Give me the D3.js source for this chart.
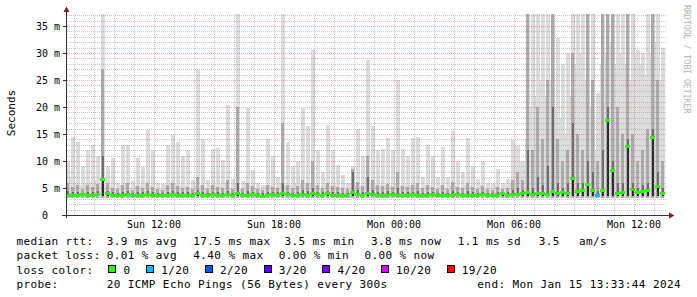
<!DOCTYPE html>
<html>
<head>
<meta charset="utf-8">
<script src="https://cdn.jsdelivr.net/npm/d3@7.9.0/dist/d3.min.js"></script>
<style>
  body { margin: 0; background: #fff; }
  text { font-family: "DejaVu Sans Mono", monospace; fill: #000; white-space: pre; }
</style>
</head>
<body>
<svg id="chart" width="697" height="297"></svg>
<script>
// 15 minute bins (ms)
const maxRtt = [
  10, 14.5, 13.6, 9, 12, 13, 11, 37.4, 9, 10.5,
  6, 13, 13, 6.3, 10.5, 8.8, 15.8, 12, 6, 5.7,
  13, 14.8, 13.6, 11, 12, 6.5, 26.8, 14, 6.5, 12.3,
  12.4, 10.2, 20.4, 6.6, 37.4, 6.3, 19.8, 8.3, 6, 5.5,
  14, 11, 7, 37.4, 13.5, 9, 10, 19.9, 16.4, 30.5,
  12, 8, 16.6, 12, 9.3, 7.5, 6, 9, 16, 11,
  28.7, 16.4, 12, 12.3, 14.2, 12, 25, 12.3, 11, 14.2,
  14.5, 7, 13, 11, 7, 12.6, 7, 15.5, 10, 8,
  14.2, 9, 6.6, 10, 6, 5.7, 8.5, 6, 6.6, 13.8,
  13, 10, 37.4, 37.4, 37.4, 37.4, 37.4, 37.4, 32.8, 28,
  30, 37.4, 37.4, 37.4, 37.4, 37.4, 22.6, 37.4, 37.4, 37.4,
  37.4, 37.4, 37.4, 37.4, 30.5, 30, 37.4, 37.4, 37.4, 31
];
// level most pings of the bin stay under
const baseRtt = [
  5.5, 7, 6, 5.5, 6, 6, 6.5, 6, 5.5, 5.5,
  5, 5.5, 6, 5, 5.5, 5.5, 6, 5.5, 5, 5,
  5.5, 6, 6, 5.5, 5.5, 5, 5.5, 5.5, 5, 5.5,
  5.5, 5.5, 6, 5, 6, 5, 6, 5.5, 5, 5,
  5.5, 5.5, 5, 6, 5.5, 5.5, 6, 6, 6, 6,
  5.5, 5, 5.5, 5.5, 5.5, 5, 5, 6, 5.5, 5.5,
  7, 6, 5.5, 5.5, 5.5, 5.5, 6, 5.5, 5.5, 5.5,
  5.5, 5, 5.5, 5.5, 5, 5.5, 5, 5.5, 5.5, 5,
  5.5, 5.5, 5, 5.5, 5, 5, 5.5, 5, 5.5, 6,
  13, 10, 14, 20, 22, 25, 22, 25, 20, 18,
  15, 22, 28, 30, 25, 20, 12, 28, 30, 32,
  28, 30, 28, 25, 30, 28, 26, 30, 32, 25
];
const hiRtt = [
  6, 5.2, 5.5, 4.8, 5.6, 5.2, 5.8, 27, 6, 5,
  4.8, 5.5, 6, 4.7, 5.4, 5, 6, 5.2, 4.8, 4.6,
  5.5, 6, 5.4, 5, 5.2, 4.8, 7, 5.5, 4.8, 5.6,
  5.2, 5, 6.5, 4.8, 20, 4.8, 6, 5.4, 4.8, 4.6,
  5.5, 5.2, 5, 17, 5.6, 5, 5.4, 6.5, 6, 10,
  5.6, 5, 6, 5.4, 5.2, 5, 4.8, 8.5, 6.2, 5.4,
  11, 6.5, 5.6, 5.4, 5.8, 5.2, 8, 5.4, 5.2, 5.6,
  6, 5, 5.5, 5.2, 4.8, 5.6, 4.8, 6.2, 5.2, 5,
  6, 5.2, 4.8, 5.4, 4.8, 4.6, 5.2, 4.8, 5, 6.5,
  8, 6.5, 37.4, 12, 20, 14, 25, 37.4, 14, 10,
  12, 30, 15, 12, 37.4, 25, 10, 37.4, 37.4, 37.4,
  20, 15, 37.4, 15, 10, 12, 16, 37.4, 25, 10
];
const midRtt = [
  4.4, 4.2, 4.3, 4.1, 4.3, 4.2, 4.4, 11, 4.5, 4.2,
  4.1, 4.3, 4.4, 4.1, 4.2, 4.2, 4.5, 4.2, 4.1, 4.0,
  4.3, 4.4, 4.2, 4.2, 4.3, 4.1, 4.6, 4.3, 4.1, 4.3,
  4.2, 4.1, 4.5, 4.1, 6, 4.1, 4.4, 4.3, 4.1, 4.0,
  4.3, 4.2, 4.2, 6, 4.3, 4.1, 4.2, 4.6, 4.4, 5,
  4.3, 4.2, 4.4, 4.2, 4.2, 4.1, 4.1, 8, 4.6, 4.3,
  7, 4.6, 4.3, 4.2, 4.4, 4.2, 5, 4.2, 4.2, 4.3,
  4.4, 4.1, 4.3, 4.2, 4.1, 4.3, 4.1, 4.5, 4.2, 4.1,
  4.4, 4.2, 4.1, 4.3, 4.1, 4.0, 4.2, 4.1, 4.2, 4.6,
  5, 4.6, 12, 5, 7, 5.5, 9, 20, 6, 5,
  6, 17, 6, 6, 10, 8, 4.5, 12, 20, 10,
  6, 6, 14, 6, 5, 5.5, 6, 16, 8, 5
];
const medRtt = [
  3.7, 3.6, 3.7, 3.8, 3.7, 3.6, 3.8, 6.5, 3.9, 3.7,
  3.6, 3.7, 3.8, 3.6, 3.7, 3.7, 3.8, 3.6, 3.7, 3.6,
  3.7, 3.8, 3.7, 3.6, 3.7, 3.7, 3.9, 3.7, 3.6, 3.8,
  3.7, 3.6, 3.8, 3.7, 4.0, 3.6, 3.7, 3.8, 3.6, 3.5,
  3.7, 3.8, 3.7, 3.9, 3.8, 3.7, 3.6, 3.8, 3.7, 3.9,
  3.8, 3.7, 3.9, 3.7, 3.6, 3.7, 3.6, 4.2, 3.8, 3.7,
  3.9, 3.8, 3.7, 3.6, 3.7, 3.8, 3.7, 3.6, 3.7, 3.8,
  3.7, 3.6, 3.7, 3.8, 3.6, 3.7, 3.6, 3.7, 3.8, 3.6,
  3.7, 3.6, 3.7, 3.8, 3.6, 3.7, 3.7, 3.9, 3.6, 3.8,
  3.8, 3.9, 4.2, 3.8, 4.0, 3.9, 3.8, 4.4, 4.0, 4.2,
  3.9, 6.8, 4.4, 4.6, 5.6, 4.6, 3.6, 4.5, 17.5, 8.3,
  4.0, 4.2, 12.6, 4.8, 4.1, 4.3, 4.5, 14.3, 5.3, 4.0
];
// index into lossLabels / lossColors
const lossLevel = [
  0, 0, 0, 0, 0, 0, 0, 0, 0, 0,
  0, 0, 0, 0, 0, 0, 0, 0, 0, 0,
  0, 0, 0, 0, 0, 0, 0, 0, 0, 0,
  0, 0, 0, 0, 0, 0, 0, 0, 0, 0,
  0, 0, 0, 0, 0, 0, 0, 0, 0, 0,
  0, 0, 0, 0, 0, 0, 0, 0, 0, 0,
  0, 0, 0, 0, 0, 0, 0, 0, 0, 0,
  0, 0, 0, 0, 0, 0, 0, 0, 0, 0,
  0, 0, 0, 0, 0, 0, 0, 0, 0, 0,
  0, 0, 0, 0, 0, 0, 0, 0, 0, 0,
  0, 0, 0, 0, 0, 0, 1, 0, 0, 0,
  0, 0, 0, 0, 0, 0, 0, 0, 0, 0
];
const minRtt = 3.2;   // fastest pings
const lowMidRtt = 3.45; // lower edge of the dark core

const lossLabels = ['0', '1/20', '2/20', '3/20', '4/20', '10/20', '19/20'];
const lossColors = ['#26ff00', '#00b8ff', '#0059ff', '#5e00ff', '#7e00ff', '#dd00ff', '#ff0000'];

const rttLegend = ['median rtt:', '3.9 ms avg', '17.5 ms max', '3.5 ms min', '3.8 ms now', '1.1 ms sd', '3.5', 'am/s'];
const lossLegend = ['packet loss:', '0.01 % avg', '4.40 % max', '0.00 % min', '0.00 % now'];
const probeLegend = ['probe:', '20 ICMP Echo Pings (56 Bytes) every 300s'];
const endLabel = 'end: Mon Jan 15 13:33:44 2024';

const endTime = new Date(2024, 0, 15, 13, 33, 44);
const step = 15 * 60 * 1000;
const startTime = new Date(+endTime - maxRtt.length * step);

// layout
const rttX = [16.4, 106.7, 193.3, 284.4, 371, 457.8, 538.7, 579];
const lossX = [16.4, 106.7, 193.3, 278.7, 364.4];
const probeX = [16.4, 106.7];

let svg = d3.select('#chart');
let x = d3.scaleTime().domain([startTime, endTime]).range([65.24, 665.24]);
let y = d3.scaleLinear().domain([0, 35]).range([215, 26]);

let bins = maxRtt.map((m, i) => ({
  t0: new Date(+startTime + i * step),
  t1: new Date(+startTime + (i + 1) * step),
  max: m, base: baseRtt[i], hi: hiRtt[i], mid: midRtt[i], med: medRtt[i], loss: lossLevel[i]
}));

svg.append('defs').append('clipPath').attr('id', 'plot')
  .append('rect').attr('x', 67).attr('y', 14).attr('width', 599).attr('height', 201);

let plot = svg.append('g').attr('clip-path', 'url(#plot)');

// smoke: full width bands and narrower spikes, lightest first (width in px, 0 = whole bin)
const bands = [
  ['base', '#dcdcdc', 0, minRtt],
  ['max', '#dcdcdc', 4, minRtt],
  ['hi', '#ababab', 3, minRtt],
  ['mid', '#6c6c6c', 2, lowMidRtt],
  ['med', '#2a2a2a', 2, lowMidRtt]
];
bands.forEach(([key, color, w, low]) => {
  plot.append('g').selectAll('rect').data(bins).join('rect')
    .attr('x', d => w ? Math.round((x(d.t0) + x(d.t1) - w) / 2) : x(d.t0))
    .attr('width', d => w ? w : x(d.t1) - x(d.t0))
    .attr('y', d => y(d[key]))
    .attr('height', d => Math.max(0, y(low) - y(d[key])))
    .attr('fill', color)
    .attr('shape-rendering', 'crispEdges');
});

// grid
let grid = svg.append('g').attr('shape-rendering', 'crispEdges').attr('stroke-dasharray', '1,1');
let minorH = d3.range(0, 38, 1).filter(v => v % 5 !== 0);
let majorH = d3.range(5, 36, 5);
let hours = x.ticks(d3.timeHour.every(1));
const minorColor = 'rgba(130,130,130,0.45)';
const majorColor = 'rgba(225,60,60,0.4)';
grid.selectAll('.hmin').data(minorH).join('line')
  .attr('x1', 67).attr('x2', 666).attr('y1', d => Math.round(y(d)) + 0.5).attr('y2', d => Math.round(y(d)) + 0.5)
  .attr('stroke', minorColor);
grid.selectAll('.vmin').data(hours.filter(h => h.getHours() % 3 !== 0)).join('line')
  .attr('x1', d => Math.round(x(d)) + 0.5).attr('x2', d => Math.round(x(d)) + 0.5)
  .attr('y1', 14).attr('y2', 215)
  .attr('stroke', minorColor);
grid.selectAll('.hmaj').data(majorH).join('line')
  .attr('x1', 67).attr('x2', 666).attr('y1', d => Math.round(y(d)) + 0.5).attr('y2', d => Math.round(y(d)) + 0.5)
  .attr('stroke', majorColor);
grid.selectAll('.vmaj').data(hours.filter(h => h.getHours() % 3 === 0)).join('line')
  .attr('x1', d => Math.round(x(d)) + 0.5).attr('x2', d => Math.round(x(d)) + 0.5)
  .attr('y1', 14).attr('y2', 215)
  .attr('stroke', majorColor);

// median, coloured by loss
plot.append('g').selectAll('line').data(bins).join('line')
  .attr('x1', d => x(d.t0)).attr('x2', d => x(d.t1))
  .attr('y1', d => y(d.med)).attr('y2', d => y(d.med))
  .attr('stroke', d => lossColors[d.loss])
  .attr('stroke-width', 3)
  .attr('shape-rendering', 'crispEdges');

// axes
let axes = svg.append('g').attr('shape-rendering', 'crispEdges');
axes.append('line').attr('x1', 66.5).attr('x2', 66.5).attr('y1', 11).attr('y2', 218).attr('stroke', '#333');
axes.append('line').attr('x1', 62).attr('x2', 670).attr('y1', 215.5).attr('y2', 215.5).attr('stroke', '#333');
axes.selectAll('.ytick').data(majorH).join('line')
  .attr('x1', 63).attr('x2', 66).attr('y1', d => Math.round(y(d)) + 0.5).attr('y2', d => Math.round(y(d)) + 0.5)
  .attr('stroke', '#333');
svg.append('path').attr('d', 'M63.5,12 L66.5,6.5 L69.5,12 Z').attr('fill', '#8b1a1a');
svg.append('path').attr('d', 'M669,212.5 L674.5,215.5 L669,218.5 Z').attr('fill', '#8b1a1a');

// y labels
svg.append('g').selectAll('text').data(d3.range(0, 36, 5)).join('text')
  .attr('x', 60).attr('y', d => y(d) + 3.5)
  .attr('text-anchor', 'end')
  .attr('font-size', 10)
  .text(d => d === 0 ? '0  ' : `${d} m`);

// x labels
svg.append('g').selectAll('text').data(x.ticks(d3.timeHour.every(6))).join('text')
  .attr('x', d => x(d)).attr('y', 228)
  .attr('text-anchor', 'middle')
  .attr('font-size', 10)
  .text(d3.timeFormat('%a %H:%M'));

svg.append('text').attr('transform', 'translate(15,113) rotate(-90)')
  .attr('text-anchor', 'middle').attr('font-size', 11).text('Seconds');

svg.append('text').attr('transform', 'translate(684,5) rotate(90)')
  .attr('font-size', 8.2).style('fill', '#b4b4b4').text('RRDTOOL / TOBI OETIKER');

// legend
let legend = svg.append('g').attr('font-size', 11).attr('letter-spacing', 0.4);
const textRow = (items, xs, yy) => {
  legend.append('g').selectAll('text').data(items).join('text')
    .attr('x', (d, i) => xs[i]).attr('y', yy).text(d => d);
};
textRow(rttLegend, rttX, 244.5);
textRow(lossLegend, lossX, 259);
textRow(['loss color:'], [16.4], 273.5);
textRow(probeLegend, probeX, 288);
legend.append('text').attr('x', 681).attr('y', 288).attr('text-anchor', 'end').text(endLabel);

let lx = 108.4;
lossLabels.forEach((lbl, i) => {
  legend.append('rect').attr('x', lx + 0.5).attr('y', 265.5).attr('width', 7).attr('height', 7)
    .attr('fill', lossColors[i]).attr('stroke', '#000').attr('shape-rendering', 'crispEdges');
  legend.append('text').attr('x', lx + 15.2).attr('y', 273.5).text(lbl);
  lx += 15.2 + lbl.length * 7 + 15.5;
});
</script>
</body>
</html>
